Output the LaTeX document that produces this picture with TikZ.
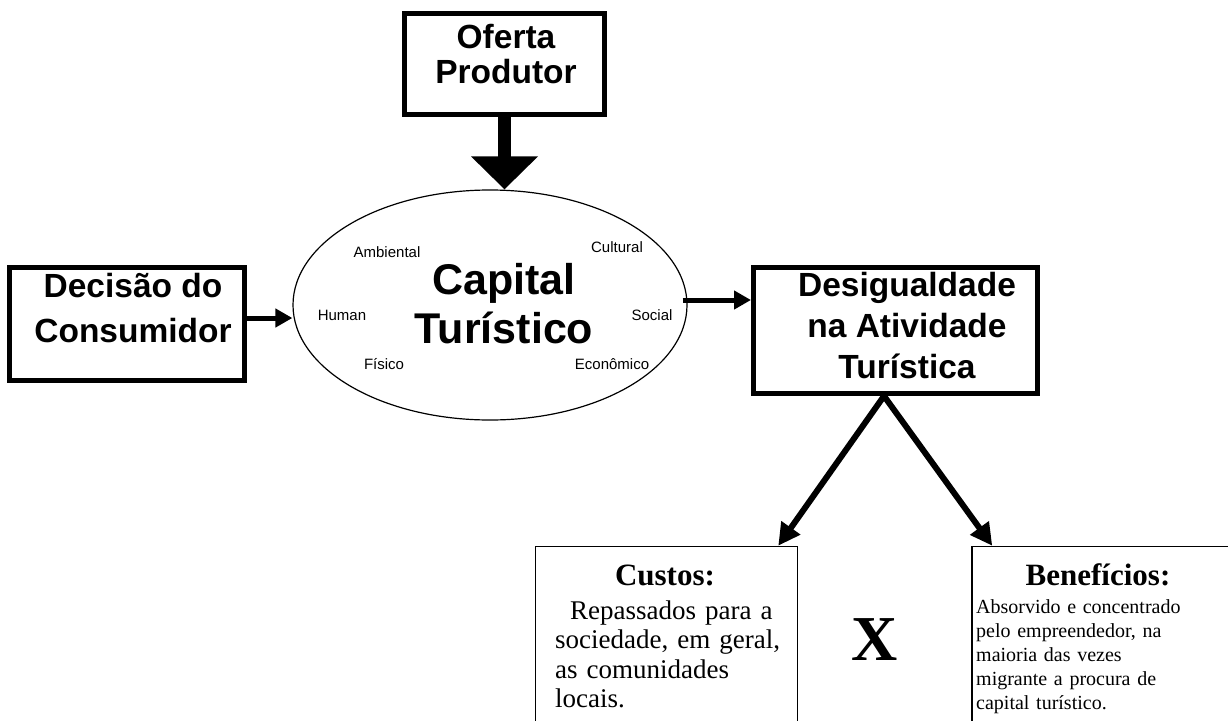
\documentclass[tikz,border=0pt]{standalone}
\usepackage{fontspec}
\setmainfont{Liberation Serif}
\setsansfont{Liberation Sans}
\usetikzlibrary{shapes.geometric,arrows.meta}

\begin{document}
\begin{tikzpicture}[x=1pt,y=-1pt,
    thickbox/.style={draw=black, line width=5pt},
    thinbox/.style={draw=black, line width=1.5pt},
    sanshead/.style={font=\sffamily\bfseries\fontsize{33.5}{#1}\selectfont, align=center},
    tag/.style={font=\sffamily\fontsize{15}{18}\selectfont, anchor=base},
    serifhead/.style={font=\rmfamily\bfseries\fontsize{31}{36}\selectfont, anchor=base},
    bigarrow/.style={line width=13pt, -{Triangle[length=33pt,width=65pt]}},
    midarrow/.style={line width=5pt, -{Triangle[length=17pt,width=18pt]}},
    splitarrow/.style={line width=6pt, -{Triangle[length=22pt,width=22pt]}}]
    \tikzstyle{every node}+=[inner sep=0pt]
    \useasboundingbox (0,0) rectangle (1228,720);
    \node [thickbox, minimum width=200pt, minimum height=101pt] (oferta) at (504.5,64) {};
    \node [sanshead=35, anchor=base] (ofertatxt) at (506,83) {Oferta\\Produtor};
    \node [thickbox, minimum width=235pt, minimum height=113pt] (decisao) at (127,324) {};
    \node [sanshead=45, anchor=base] (decisaotxt) at (133,342) {Decisão do\\Consumidor};
    \node [thickbox, minimum width=284pt, minimum height=126pt] (desig) at (895.5,330.5) {};
    \node [sanshead=41, anchor=base] (desigtxt) at (907,378) {Desigualdade\\na Atividade\\Turística};
    \node [draw=black, line width=1.2pt, ellipse, minimum width=394pt, minimum height=230pt] (capital) at (490,305) {};
    \node [font=\sffamily\bfseries\fontsize{43}{49}\selectfont, align=center, anchor=base] (capitaltxt) at (504,343) {Capital\\Turístico};
    \node [tag] (ambiental) at (387,257) {Ambiental};
    \node [tag] (cultural) at (617,252) {Cultural};
    \node [tag] (human) at (342,320) {Human};
    \node [tag] (social) at (652,320) {Social};
    \node [tag] (fisico) at (384,369) {Físico};
    \node [tag] (economico) at (612,369) {Econômico};
    \node [thinbox, minimum width=262pt, minimum height=190pt] (custos) at (666.5,641.5) {};
    \node [serifhead] (custostit) at (665,585) {Custos:};
    \node [font=\rmfamily\fontsize{27}{29.5}\selectfont, text width=240pt, align=left, anchor=base west] (custostxt) at (555,619) {\hspace*{15pt}Repassados para a\\sociedade, em geral,\\as comunidades\\locais.};
    \node [thinbox, minimum width=268pt, minimum height=190pt] (benef) at (1106,641.5) {};
    \node [serifhead] (beneftit) at (1098,585) {Benefícios:};
    \node [font=\rmfamily\fontsize{20}{24}\selectfont, text width=250pt, align=left, anchor=base west] (beneftxt) at (976,613) {Absorvido e concentrado\\pelo empreendedor, na\\maioria das vezes\\migrante a procura de\\capital turístico.};
    \node [font=\rmfamily\bfseries\fontsize{64}{70}\selectfont, anchor=base] (versus) at (875,660) {X};
    \draw [bigarrow] (oferta.south) -- (oferta.south |- capital.north);
    \draw [midarrow] ([yshift=6pt]decisao.east) -- ([yshift=6pt]decisao.east -| capital.west);
    \draw [midarrow] ([yshift=5pt,xshift=-5pt]capital.east) -- ([yshift=5pt]capital.east -| desig.west);
    \draw [splitarrow] ([xshift=-11.5pt]desig.south) -- ([xshift=-20pt]custos.north east);
    \draw [splitarrow] ([xshift=-11.5pt]desig.south) -- ([xshift=21pt]benef.north west);
\end{tikzpicture}
\end{document}
